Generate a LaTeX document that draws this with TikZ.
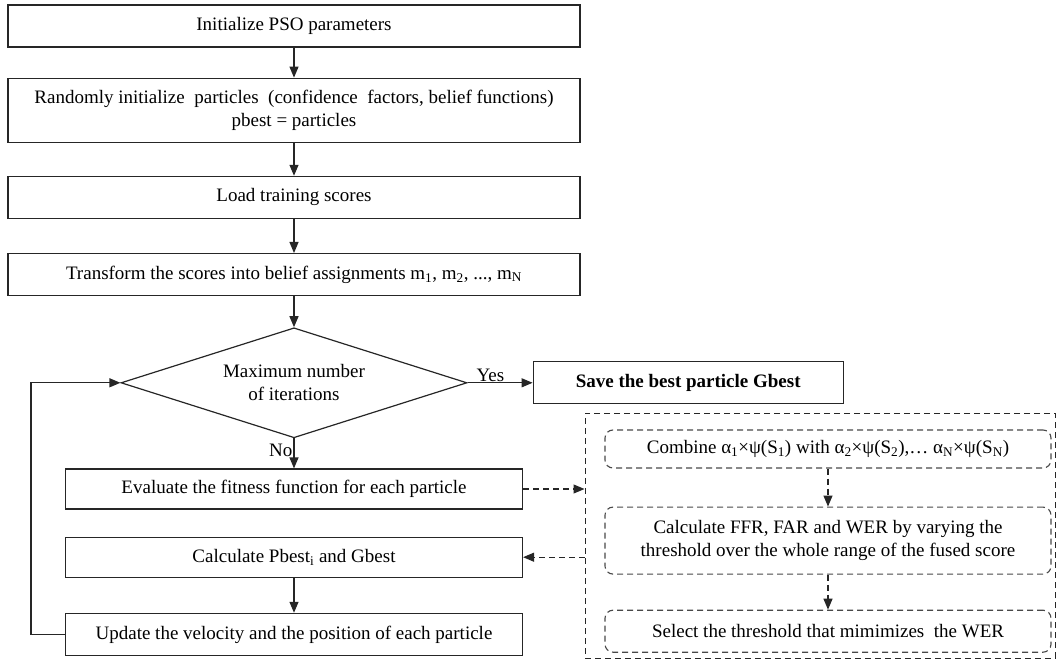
\documentclass[tikz,border=0pt]{standalone}
\usepackage{fontspec}
\setmainfont{Liberation Serif}
\usepackage{tikz}
\usetikzlibrary{arrows.meta,positioning,shapes.geometric}
\definecolor{frameclr}{HTML}{262626}
\definecolor{dashclr}{HTML}{484848}
\newcommand{\sub}[1]{\textsubscript{#1}}
\tikzset{
  box/.style   = {draw=frameclr, line width=1.2pt, align=center, inner sep=2pt,
                  minimum width=572pt, minimum height=42pt, font=\fontsize{19}{23}\selectfont},
  sbox/.style  = {box, minimum width=457pt, minimum height=40pt},
  dec/.style   = {diamond, draw=frameclr, line width=1.2pt, align=center, inner sep=0pt,
                  aspect=3.2, minimum width=346pt, minimum height=110pt,
                  font=\fontsize{19}{23}\selectfont},
  dbox/.style  = {draw=dashclr, line width=1.1pt, dash pattern=on 6pt off 4pt,
                  rounded corners=8pt, align=center, inner sep=2pt,
                  minimum width=446pt, font=\fontsize{19}{23}\selectfont},
  grp/.style   = {draw=frameclr, line width=1pt, dash pattern=on 6pt off 4pt, inner sep=0pt},
  ar/.style    = {-{Triangle[length=11pt,width=9pt]}, line width=1.2pt, draw=frameclr},
  dar/.style   = {ar, dash pattern=on 6pt off 4pt},
  lbl/.style   = {font=\fontsize{19}{23}\selectfont, inner sep=1pt},
}
\begin{document}
\begin{tikzpicture}[x=1pt, y=-1pt, node distance=30pt]
  \useasboundingbox (0,0) rectangle (1058,660);
  % main column
  \node[box] (init) at (294,26) {Initialize PSO parameters};
  \node[box, minimum height=64pt, below=30pt of init] (rand)
    {Randomly initialize\ \ particles\ \ (confidence\ \ factors, belief functions)\\pbest = particles};
  \node[box, below=33pt of rand] (load) {Load training scores};
  \node[box, below=34pt of load] (trans)
    {Transform the scores into belief assignments m\sub{1}, m\sub{2}, ..., m\sub{N}};
  \node[dec, below=31pt of trans] (maxit) {Maximum number\\of iterations};
  \node[sbox, below=30pt of maxit] (eval) {Evaluate the fitness function for each particle};
  \node[sbox, below=27pt of eval] (calc) {Calculate Pbest\sub{i} and Gbest};
  \node[sbox, below=35pt of calc, minimum height=42pt] (upd)
    {Update the velocity and the position of each particle};
  \node[box, minimum width=310pt, right=65pt of maxit] (save) {\textbf{Save the best particle Gbest}};
  \draw[ar] (init) -- (rand);
  \draw[ar] (rand) -- (load);
  \draw[ar] (load) -- (trans);
  \draw[ar] (trans) -- (maxit);
  \draw[ar] (maxit) -- node[lbl, above, pos=0.35] {Yes} (save);
  \draw[ar] (maxit) -- node[lbl, left, pos=0.4] {No} (eval);
  \draw[ar] (calc) -- (upd);
  \coordinate (lp) at (31,0);
  \draw[ar] (upd.west) -- (upd.west -| lp) -- (maxit.west -| lp) -- (maxit.west);
  % fusion step
  \node[grp, minimum width=470pt, minimum height=245pt] (fuse) at (820,535.5) {};
  \node[dbox, minimum height=38pt] (comb) at (828,449)
    {Combine α\sub{1}×ψ(S\sub{1}) with α\sub{2}×ψ(S\sub{2}),… α\sub{N}×ψ(S\sub{N})};
  \node[dbox, minimum height=67pt, below=38pt of comb] (ffr)
    {Calculate FFR, FAR and WER by varying the\\threshold over the whole range of the fused score};
  \node[dbox, minimum height=42pt, below=35pt of ffr] (sel) {Select the threshold that mimimizes\ \ the WER};
  \draw[dar] (comb) -- (ffr);
  \draw[dar] (ffr) -- (sel);
  \draw[dar] (eval.east) -- (eval.east -| fuse.west);
  \draw[dar] (calc.east -| fuse.west) -- (calc.east);
\end{tikzpicture}
\end{document}
